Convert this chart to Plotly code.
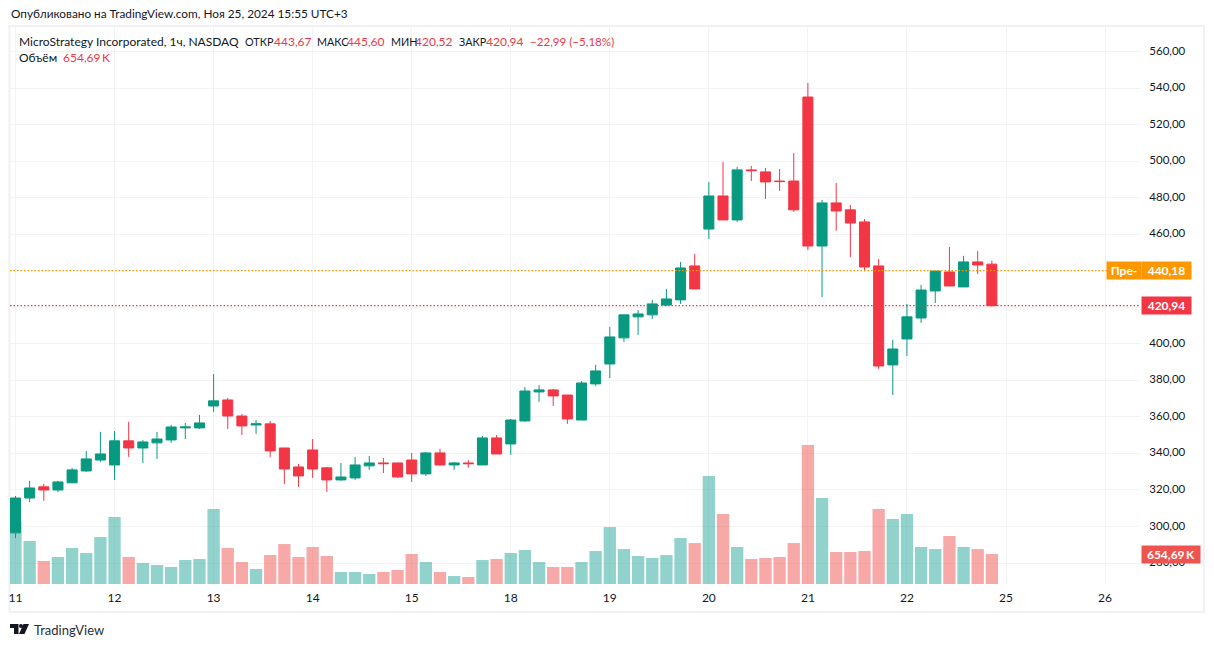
import plotly.graph_objects as go

W, H = 1214, 647

# hourly MSTR bars
opens = [296.5, 315.6, 321.7, 320.0, 323.9, 330.4, 336.4, 333.7, 346.9, 343.0,
         345.8, 347.4, 354.0, 354.0, 366.0, 369.3, 360.5, 355.6, 356.2, 343.0,
         332.6, 341.9, 332.1, 325.5, 326.6, 333.2, 334.8, 334.8, 336.4, 328.8,
         340.3, 333.7, 334.8, 333.7, 348.5, 345.2, 357.8, 373.7, 374.8, 372.0,
         358.3, 378.1, 389.0, 403.3, 414.8, 415.9, 421.3, 424.1, 442.7, 462.9,
         481.0, 467.9, 495.3, 494.2, 489.2, 489.2, 535.2, 453.6, 477.2, 473.4,
         466.8, 442.7, 388.5, 402.7, 414.2, 429.0, 439.4, 431.2, 444.9, 443.67]
highs = [316.7, 325.0, 323.3, 325.0, 332.1, 341.4, 351.8, 352.3, 357.3, 347.4,
         351.8, 355.6, 356.7, 361.1, 383.5, 370.4, 361.6, 358.3, 357.8, 343.0,
         334.3, 347.9, 332.6, 334.8, 338.1, 338.6, 337.5, 334.8, 340.3, 340.8,
         342.5, 335.3, 336.4, 349.6, 350.1, 358.9, 376.4, 377.5, 375.3, 372.0,
         379.7, 388.5, 409.3, 415.9, 418.6, 424.1, 430.1, 444.9, 449.3, 488.7,
         499.6, 496.9, 497.5, 496.4, 495.8, 504.6, 542.9, 478.8, 488.1, 476.1,
         468.4, 446.5, 402.2, 421.9, 432.3, 439.9, 453.1, 448.2, 450.9, 445.60]
lows = [293.7, 313.4, 314.0, 318.9, 323.9, 329.9, 335.4, 325.5, 338.1, 334.8,
        337.0, 345.8, 347.9, 353.4, 362.7, 353.4, 350.1, 350.7, 338.1, 323.3,
        321.7, 326.6, 318.9, 325.0, 325.5, 331.0, 329.3, 326.6, 324.4, 327.7,
        333.2, 331.0, 332.1, 333.7, 339.7, 339.2, 357.3, 368.2, 366.0, 356.2,
        358.3, 377.0, 381.3, 401.1, 404.9, 413.7, 420.8, 421.9, 430.1, 457.5,
        467.9, 466.8, 489.2, 479.4, 483.8, 472.3, 451.4, 425.7, 461.9, 447.6,
        439.9, 386.3, 372.0, 393.4, 411.5, 422.4, 431.7, 431.2, 438.3, 420.52]
closes = [315.6, 321.1, 320.0, 324.4, 331.0, 337.0, 339.7, 346.9, 343.0, 346.3,
          347.9, 354.5, 354.5, 356.7, 368.8, 360.5, 355.1, 356.2, 341.4, 331.5,
          327.7, 331.5, 325.5, 327.1, 333.7, 334.8, 334.4, 327.1, 328.8, 340.3,
          333.7, 334.8, 334.4, 348.5, 339.7, 358.3, 374.2, 374.8, 371.5, 358.9,
          378.6, 385.2, 403.8, 415.9, 416.4, 421.9, 424.6, 441.6, 430.1, 481.0,
          467.9, 495.3, 494.9, 488.7, 488.9, 473.4, 453.6, 477.2, 472.8, 466.2,
          442.1, 387.9, 397.2, 414.8, 429.5, 439.9, 431.7, 444.9, 443.2, 420.94]
# volume in thousands
volumes = [1352, 938, 502, 589, 785, 676, 1025, 1461, 589, 458,
           414, 371, 523, 545, 1636, 785, 480, 327, 632, 872,
           589, 807, 611, 262, 262, 218, 262, 305, 654, 480,
           262, 174, 153, 523, 545, 676, 742, 480, 371, 371,
           480, 720, 1243, 763, 611, 567, 632, 1003, 894, 2355,
           1527, 807, 545, 567, 589, 894, 3032, 1876, 698, 698,
           720, 1636, 1418, 1527, 807, 763, 1047, 807, 763, 654.69]

day_ticks = [0, 7, 14, 21, 28, 35, 42, 49, 56, 63, 70, 77]
day_labels = ['11', '12', '13', '14', '15', '18', '19', '20', '21', '22', '25', '26']
price_ticks = list(range(280, 561, 20))
# 420 and 440 sit under the price tags, so only their grid lines show
price_labels = ['' if p in (420, 440) else f'{p},00' for p in price_ticks]

premarket_price = 440.18
last_price = 420.94

GREEN = '#089981'
RED = '#F23645'
ORANGE = '#FF9800'
TEXT = '#131722'
GRID = '#F3F3F4'
FRAME = '#F0F0F6'
FONT = 'Lato'

idx = list(range(len(opens)))
vol_colors = ['rgba(38,166,154,0.5)' if c >= o else 'rgba(239,83,80,0.5)'
              for o, c in zip(opens, closes)]


def px_x(x):
    return x / W


def px_y(y):
    return 1 - y / H


fig = go.Figure()

# volume first so the candles sit on top
fig.add_trace(go.Bar(
    x=idx, y=volumes, marker=dict(color=vol_colors, line_width=0),
    width=0.87, yaxis='y', showlegend=False,
))
fig.add_trace(go.Candlestick(
    x=idx, open=opens, high=highs, low=lows, close=closes,
    increasing=dict(line=dict(color=GREEN, width=1), fillcolor=GREEN),
    decreasing=dict(line=dict(color=RED, width=1), fillcolor=RED),
    whiskerwidth=0, yaxis='y2', showlegend=False,
))


def text(x, y, s, color=TEXT, size=12):
    fig.add_annotation(
        xref='paper', yref='paper', x=px_x(x), y=px_y(y), text=s,
        xanchor='left', yanchor='middle', showarrow=False, borderpad=0,
        font=dict(family=FONT, size=size, color=color),
    )


def tag(x, width, y_value, s, color, yref='y2', height=17):
    fig.add_annotation(
        xref='paper', yref=yref, x=px_x(x), y=y_value, text=s, width=width, height=height,
        xanchor='left', yanchor='middle', align='center', valign='middle',
        showarrow=False, borderpad=0, bgcolor=color,
        font=dict(family=FONT, size=12, color='white', weight='bold'),
    )


text(10, 14, 'Опубликовано на TradingView.com, Ноя 25, 2024 15:55 UTC+3', size=11.8)
text(18, 42, 'MicroStrategy Incorporated, 1ч, NASDAQ')
text(244, 42, 'ОТКР', size=10.8)
text(273, 42, '443,67', RED)
text(316, 42, 'МАКС', size=10.8)
text(346, 42, '445,60', RED)
text(390, 42, 'МИН', size=10.8)
text(414, 42, '420,52', RED)
text(458, 42, 'ЗАКР', size=10.8)
text(485, 42, '420,94', RED)
text(529, 42, '−22,99 (−5,18%)', RED, 11.6)
text(18, 58, 'Объём')
text(62, 58, '654,69\u2009K', RED)
text(33, 630, 'TradingView', '#2A2E39', 13)

# price tags on the right
tag(1106, 34, premarket_price, 'Пре-', ORANGE)
tag(1141, 49, premarket_price, '440,18', ORANGE)
tag(1141, 49, last_price, '420,94', RED)
tag(1141, 58, volumes[-1], '654,69\u2009K', '#EF5350', yref='y')

fig.add_shape(type='line', xref='x domain', yref='y2', x0=0, x1=1,
              y0=premarket_price, y1=premarket_price, layer='above',
              line=dict(color=ORANGE, width=1.2, dash='1.5px,2px'))
fig.add_shape(type='line', xref='x domain', yref='y2', x0=0, x1=1,
              y0=last_price, y1=last_price, layer='above',
              line=dict(color=RED, width=1.2, dash='1.5px,2px'))

# chart frame
fig.add_shape(type='rect', xref='paper', yref='paper',
              x0=px_x(9.5), x1=px_x(1204), y0=px_y(612), y1=px_y(26),
              layer='below', line=dict(color=FRAME, width=2))

# logo
logo = [
    [(10, 624), (18.5, 624), (18.5, 634), (14, 634), (14, 628), (10, 628)],
    [(23.5, 624), (29, 624), (24.5, 634), (19, 634)],
]
for part in logo:
    path = 'M ' + ' L '.join(f'{px_x(a):.5f} {px_y(b):.5f}' for a, b in part) + ' Z'
    fig.add_shape(type='path', xref='paper', yref='paper', path=path,
                  fillcolor='#131722', line_width=0)
fig.add_shape(type='circle', xref='paper', yref='paper',
              x0=px_x(19), x1=px_x(23), y0=px_y(628), y1=px_y(624),
              fillcolor='#131722', line_width=0)

fig.update_layout(
    width=W, height=H,
    margin=dict(l=0, r=0, t=0, b=0),
    paper_bgcolor='white', plot_bgcolor='white',
    boxgap=0.29, boxgroupgap=0,
    font=dict(family=FONT, size=12, color=TEXT),
    showlegend=False,
    xaxis=dict(
        domain=[px_x(10), px_x(1140)], range=[-0.389, 79.47],
        tickmode='array', tickvals=day_ticks, ticktext=day_labels,
        showgrid=True, gridcolor=GRID, gridwidth=1, zeroline=False,
        showline=False, ticks='outside', ticklen=3, tickcolor='rgba(0,0,0,0)',
        rangeslider=dict(visible=False),
    ),
    yaxis=dict(
        domain=[px_y(584), px_y(26)], range=[0, 12178],
        visible=False, showgrid=False, zeroline=False,
    ),
    yaxis2=dict(
        overlaying='y', side='right', anchor='x', range=[268.5, 574.1],
        tickmode='array', tickvals=price_ticks, ticktext=price_labels,
        tickfont=dict(size=11.5), ticklabelshift=-1,
        showgrid=True, gridcolor=GRID, gridwidth=1, zeroline=False,
        showline=False, ticks='outside', ticklen=6, tickcolor='rgba(0,0,0,0)',
    ),
)

fig.write_html('out.html', config=dict(displayModeBar=False),
               post_script="document.body.style.margin='0';")
